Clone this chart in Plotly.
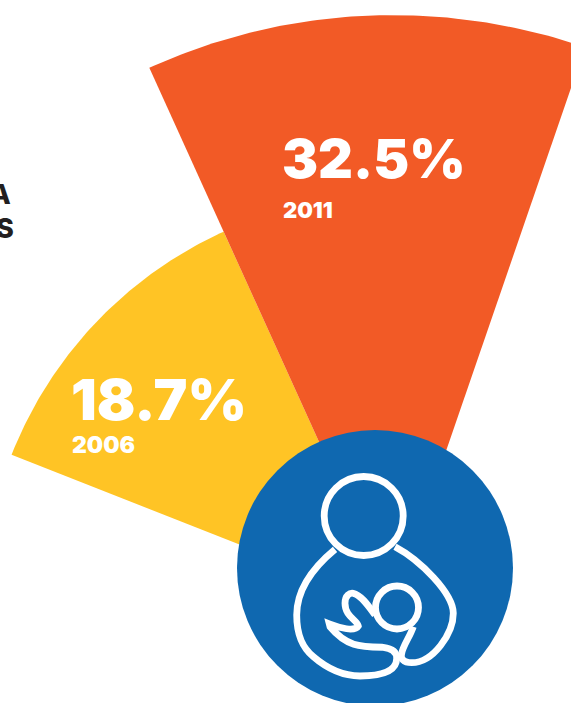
import numpy as np
import plotly.graph_objects as go

# Breastfeeding rate by survey year
years = ["2006", "2011"]
rates = [18.7, 32.5]
colors = ["#FFC425", "#F25A26"]
# Angular span of each wedge, degrees counter-clockwise from east
start_deg = [114.4, 71.0]
end_deg = [158.5, 114.4]

# Fan geometry in page pixels: radius grows linearly with the rate
CX, CY = 393.0, 605.0
R0, R_PER_POINT = 166.1, 13.04

HUB = "#0F68B0"
FONT = "Inter"

fig = go.Figure()

for year, rate, color, a0, a1 in zip(years, rates, colors, start_deg, end_deg):
    r = R0 + R_PER_POINT * rate
    t = np.radians(np.linspace(a0, a1, 80))
    xs = np.r_[CX, CX + r * np.cos(t), CX]
    ys = np.r_[CY, CY - r * np.sin(t), CY]
    fig.add_trace(go.Scatter(x=xs, y=ys, mode="lines", fill="toself",
                             fillcolor=color, line=dict(width=0), hoverinfo="skip",
                             name=year, showlegend=False))


def label(text, x, y, size, color="white", anchor="left", weight=900):
    fig.add_annotation(x=x, y=y, xref="x", yref="y", text=text, showarrow=False,
                       xanchor=anchor, yanchor="middle", borderpad=0,
                       font=dict(family=FONT, size=size, color=color, weight=weight))


# Percentages and years on the wedges
label(f"{rates[1]}%", 281, 158, 54)
label(years[1], 282, 210, 22)
label(f"{rates[0]}%", 70, 399, 57)
label(years[0], 71, 445, 23)

# Tail of the heading running in from the left
label("A", 12, 194, 27, "#231F20", "right", 800)
label("S", 15, 228, 27, "#231F20", "right", 800)

ICON = dict(type="path", xref="x", yref="y", line=dict(color="white", width=6.8),
            fillcolor="rgba(0,0,0,0)")
shapes = [
    # Hub behind the mother-and-child icon
    dict(type="circle", xref="x", yref="y", x0=237, x1=513, y0=430, y1=706,
         fillcolor=HUB, line=dict(width=0), layer="above"),
    # Mother's head and child's head
    dict(type="circle", xref="x", yref="y", x0=324.2, x1=403.2, y0=476.5, y1=555.5,
         fillcolor="rgba(0,0,0,0)", line=dict(color="white", width=6.8)),
    dict(type="circle", xref="x", yref="y", x0=375.5, x1=418.5, y0=586, y1=629,
         fillcolor="rgba(0,0,0,0)", line=dict(color="white", width=6.8)),
    # Mother's left arm wrapping under the child, ending in the hand
    dict(ICON, path="M335,549.3 C310,570 296.7,593 296.7,615 C296.7,636.7 303.3,648.3 313.3,656.7 "
                    "C326.7,668.3 343.3,676 360,676 C380,676 396.7,671.7 396.7,658.3 "
                    "C396.7,651.7 391.7,648.3 383.3,647.3 C360,646.7 346.7,646.7 330,626.7 "
                    "L329.3,624 C340,628.3 355,631.7 358.3,626 C357.3,620 345,616.7 345,603.3 "
                    "C345,595 350,592.7 353.3,593.3 C361.7,595 370,608.3 375,615"),
    # Mother's right arm
    dict(ICON, path="M395,546.7 C420,560 453.3,593.3 453.3,613.3 C453.3,633.3 433.3,662.7 411.7,662.7 "
                    "C403.3,662.7 400,658.3 401.7,653.3 C403.3,645 410,636.7 413.3,626.7"),
]

fig.update_layout(
    width=571, height=703,
    margin=dict(l=0, r=0, t=0, b=0),
    paper_bgcolor="white", plot_bgcolor="white",
    showlegend=False,
    xaxis=dict(range=[0, 571], visible=False, fixedrange=True),
    yaxis=dict(range=[703, 0], visible=False, fixedrange=True),
    shapes=shapes,
)

fig.write_html("out.html", config={"displayModeBar": False})
